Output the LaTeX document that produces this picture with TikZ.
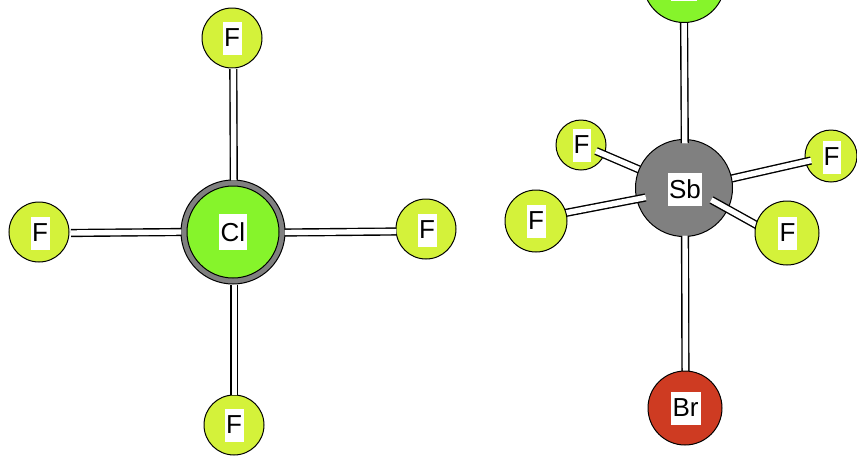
\documentclass[tikz,border=0pt]{standalone}
\usepackage{fontspec}
\setmainfont{Liberation Sans}
\definecolor{fyellow}{HTML}{D4F23A}
\definecolor{clgreen}{HTML}{86F42B}
\definecolor{sbgray}{HTML}{808080}
\definecolor{brred}{HTML}{CE3B22}
\tikzset{
  atom/.style={circle,draw=black,line width=1pt,inner sep=0pt,outer sep=0pt},
  fatom/.style={atom,fill=fyellow},
  lab/.style={fill=white,inner sep=0pt,minimum height=33pt,text=black,font=\fontsize{26}{30}\selectfont},
  bondo/.style={draw=black,line width=8.2pt},
  bondi/.style={draw=white,line width=5.4pt,shorten <=-0.3pt,shorten >=-0.3pt},
}
\newcommand{\bondline}[2]{\draw[bondo] (#1) -- (#2); \draw[bondi] (#1) -- (#2);}
\begin{document}
\begin{tikzpicture}[x=1pt,y=-1pt]
\useasboundingbox (0,0) rectangle (857,456);
% left molecule
\node[atom,fill=sbgray,minimum size=104pt] (clring) at (233,232) {};
\node[atom,fill=clgreen,minimum size=92pt] (clcore) at (233,232) {};
\node[fatom,minimum size=60pt] (fa) at (232,38) {};
\node[fatom,minimum size=60pt] (fb) at (39,232) {};
\node[fatom,minimum size=60pt] (fc) at (426,229) {};
\node[fatom,minimum size=60pt] (fd) at (234,425) {};
\coordinate (ta) at (233.3,69);
\coordinate (tb) at (233.8,180);
\coordinate (la) at (71,233);
\coordinate (lb) at (181,232);
\coordinate (ra) at (285,232.5);
\coordinate (rb) at (396,231.5);
\coordinate (ba) at (234.2,285);
\coordinate (bb) at (234.2,395);
\bondline{ta}{tb}
\bondline{la}{lb}
\bondline{ra}{rb}
\bondline{ba}{bb}
\node[lab,minimum width=28pt,minimum height=36pt] (lcl) at (233,232) {Cl};
\node[lab,minimum width=19pt] (lfa) at (232,38) {F};
\node[lab,minimum width=19pt] (lfb) at (40,233) {F};
\node[lab,minimum width=19pt] (lfc) at (427,230) {F};
\node[lab,minimum width=19pt] (lfd) at (234,425) {F};
% right molecule
\coordinate (e1) at (596,151);
\coordinate (e2) at (811,160.5);
\coordinate (s1) at (645,172);
\coordinate (s2) at (725,180);
\coordinate (e3) at (711.5,200);
\coordinate (e4) at (760,227);
\coordinate (e5) at (645.5,197.5);
\coordinate (e6) at (560,214);
\coordinate (s7) at (684.8,143);
\coordinate (e7) at (684,15);
\coordinate (s8) at (685,236);
\coordinate (e8) at (685.5,385);
\node[fatom,minimum size=50pt] (g1) at (581,145) {};
\node[fatom,minimum size=52pt] (g2) at (831,156) {};
\bondline{e1}{s1}
\bondline{e2}{s2}
\node[atom,fill=sbgray,minimum size=97pt] (sb) at (684,188) {};
\bondline{s7}{e7}
\bondline{s8}{e8}
\bondline{e3}{e4}
\bondline{e5}{e6}
\node[fatom,minimum size=62pt] (g3) at (536,221) {};
\node[fatom,minimum size=64pt] (g4) at (787,233) {};
\node[atom,fill=clgreen,minimum size=82pt] (cltop) at (684,-18.5) {};
\node[atom,fill=brred,minimum size=74pt] (br) at (685,408) {};
\node[lab,minimum width=34pt] (lsb) at (685,189) {Sb};
\node[lab,minimum width=18pt] (lg1) at (581.5,145) {F};
\node[lab,minimum width=18pt] (lg2) at (831.5,157) {F};
\node[lab,minimum width=19pt] (lg3) at (536,221) {F};
\node[lab,minimum width=19pt] (lg4) at (787.5,233) {F};
\node[lab,minimum width=26pt,minimum height=36pt] (lcltop) at (684,-17) {};
\node[lab,minimum width=30pt] (lbr) at (685.5,408) {Br};
\end{tikzpicture}
\end{document}
